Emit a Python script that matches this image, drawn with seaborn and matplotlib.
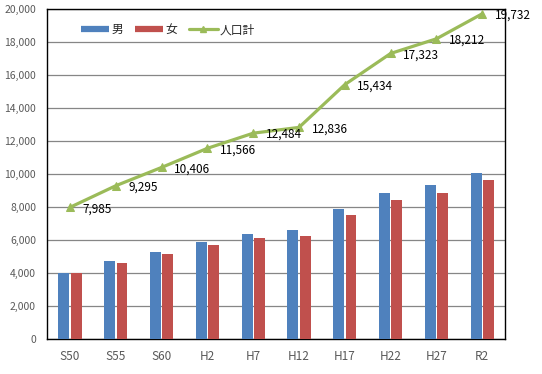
import matplotlib
matplotlib.use("Agg")
import matplotlib.pyplot as plt
import numpy as np
import pandas as pd
import seaborn as sns
from matplotlib.lines import Line2D
from matplotlib.ticker import FuncFormatter

# data
years = ["S50", "S55", "S60", "H2", "H7", "H12", "H17", "H22", "H27", "R2"]
male = [3990, 4700, 5260, 5900, 6390, 6580, 7900, 8880, 9350, 10070]
female = [3995, 4595, 5146, 5666, 6094, 6256, 7534, 8443, 8862, 9662]
total = [7985, 9295, 10406, 11566, 12484, 12836, 15434, 17323, 18212, 19732]

sns.set_theme(style="white")
plt.rcParams["font.family"] = ["Noto Sans CJK JP", "DejaVu Sans"]

df = pd.DataFrame({"year": years * 2,
                   "value": male + female,
                   "sex": ["男"] * len(years) + ["女"] * len(years)})

blue = "#4F81BD"
red = "#C0504D"
green = "#9BBB59"

fig = plt.figure(figsize=(5.42, 3.74), dpi=100)
ax = fig.add_axes([0.087, 0.094, 0.845, 0.881])

sns.barplot(data=df, x="year", y="value", hue="sex", order=years,
            palette=[blue, red], width=0.54, gap=0.12, saturation=1,
            linewidth=0, edgecolor="none", legend=False, ax=ax, zorder=3)

xs = np.arange(len(years))
sns.lineplot(x=xs, y=total, color=green, linewidth=2.3, marker="^",
             markersize=6, markeredgecolor=green, ax=ax, zorder=4)

for x, v in zip(xs, total):
    ax.annotate(f"{v:,}", (x, v), xytext=(9, -1), textcoords="offset points",
                ha="left", va="center", fontsize=8.5, color="black", zorder=5)

ax.set_ylim(0, 20000)
ax.set_xlim(-0.5, len(years) - 0.5)
ax.set_yticks(range(0, 20001, 2000))
ax.yaxis.set_major_formatter(FuncFormatter(lambda v, p: f"{int(v):,}"))
ax.yaxis.grid(True, color="#868686", linewidth=0.9, zorder=0)
ax.set_axisbelow(True)
ax.set_xlabel("")
ax.set_ylabel("")
ax.tick_params(axis="both", length=0, labelcolor="#595959")
ax.tick_params(axis="x", pad=8, labelsize=8.5)
ax.tick_params(axis="y", pad=8, labelsize=7.5)
for s in ax.spines.values():
    s.set_color("black")
    s.set_linewidth(1.0)
    s.set_visible(True)

handles = [Line2D([], [], color=blue, linewidth=4.5, solid_capstyle="butt"),
           Line2D([], [], color=red, linewidth=4.5, solid_capstyle="butt"),
           Line2D([], [], color=green, linewidth=2.3, marker="^", markersize=5)]
ax.legend(handles, ["男", "女", "人口計"], loc="upper left", ncol=3, frameon=False,
          fontsize=8.5, handlelength=2.4, handletextpad=0.2, columnspacing=1.0,
          bbox_to_anchor=(0.05, 0.99))

fig.savefig("out.png", dpi=100)
